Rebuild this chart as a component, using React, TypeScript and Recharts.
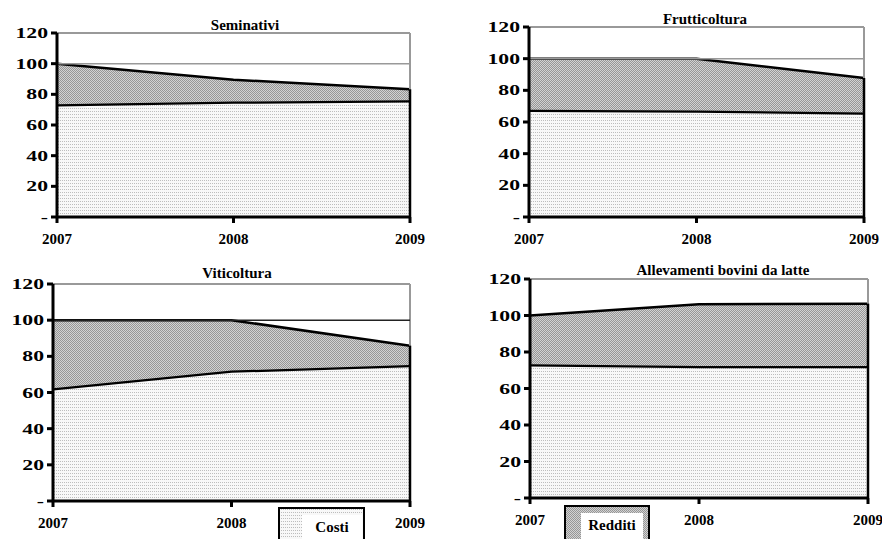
import React from 'react';
import {
  AreaChart,
  Area,
  XAxis,
  YAxis,
  ReferenceLine,
} from 'recharts';

const years = ['2007', '2008', '2009'];
const yTicks = [0, 20, 40, 60, 80, 100, 120];

// indici base 2007 = 100 (costi + redditi)
const seminativiCosti = [73.5, 75.3, 76.1];
const seminativiRedditi = [26.5, 14.2, 7.2];
const frutticolturaCosti = [67.8, 67.2, 66.0];
const frutticolturaRedditi = [32.2, 32.8, 21.8];
const viticolturaCosti = [62.4, 72.1, 75.2];
const viticolturaRedditi = [37.6, 27.9, 10.7];
const latteCosti = [73.3, 72.3, 72.3];
const latteRedditi = [26.7, 33.8, 34.2];

const FONT = '"Liberation Serif", "Times New Roman", serif';
const Y_AXIS_W = 50;
const X_AXIS_H = 30;

interface Box {
  left: number;
  top: number;
  width: number;
  height: number;
}

interface Plot {
  x0: number;
  x1: number;
  y0: number;
  y1: number;
}

interface PanelProps {
  id: string;
  title: string;
  costi: number[];
  redditi: number[];
  box: Box;
  plot: Plot;
  titleX: number;
  titleY: number;
  baseColor?: string;
  showBase?: boolean;
}

const YTick = ({ x, y, payload }: any) => (
  <text
    transform={`translate(${x},${y}) scale(1.55,1)`}
    textAnchor="end"
    dy="0.36em"
    fontFamily={FONT}
    fontWeight="bold"
    fontSize={14}
    fill="#000"
  >
    {payload.value === 0 ? '-' : payload.value}
  </text>
);

const XTick = ({ x, y, payload }: any) => (
  <text
    x={x}
    y={y}
    textAnchor="middle"
    dy="0.71em"
    fontFamily={FONT}
    fontWeight="bold"
    fontSize={15}
    fill="#000"
  >
    {payload.value}
  </text>
);

const Panel: React.FC<PanelProps> = ({
  id,
  title,
  costi,
  redditi,
  box,
  plot,
  titleX,
  titleY,
  baseColor = '#999',
  showBase = true,
}) => {
  const data = years.map((year, i) => ({
    year,
    costi: costi[i],
    redditi: redditi[i],
  }));
  const lastTotal = costi[costi.length - 1] + redditi[redditi.length - 1];

  return (
    <>
      <div style={{ position: 'absolute', left: box.left, top: box.top }}>
        <AreaChart
          width={box.width}
          height={box.height}
          data={data}
          margin={{
            top: plot.y0 - box.top,
            left: plot.x0 - box.left - Y_AXIS_W,
            right: box.left + box.width - plot.x1,
            bottom: box.top + box.height - plot.y1 - X_AXIS_H,
          }}
        >
          <defs>
            <pattern id={`costi-${id}`} width="2" height="3" patternUnits="userSpaceOnUse">
              <rect width="2" height="3" fill="#f8f8f8" />
              <rect width="1" height="1" fill="#bdbdbd" />
            </pattern>
            <pattern id={`redditi-${id}`} width="2" height="2" patternUnits="userSpaceOnUse">
              <rect width="2" height="2" fill="#d2d2d2" />
              <rect width="1" height="1" fill="#969696" />
              <rect x="1" y="1" width="1" height="1" fill="#969696" />
            </pattern>
          </defs>
          <XAxis
            dataKey="year"
            height={X_AXIS_H}
            stroke="#000"
            strokeWidth={3}
            tickSize={6}
            tickMargin={10}
            tick={<XTick />}
            interval={0}
          />
          <YAxis
            width={Y_AXIS_W}
            domain={[0, 120]}
            ticks={yTicks}
            interval={0}
            stroke="#000"
            strokeWidth={3}
            tickSize={6}
            tickMargin={3}
            tick={<YTick />}
          />
          <ReferenceLine y={120} stroke="#999" strokeWidth={2} />
          <ReferenceLine x="2009" stroke="#999" strokeWidth={2} />
          {showBase && <ReferenceLine y={100} stroke={baseColor} strokeWidth={1.5} />}
          <Area
            type="linear"
            dataKey="costi"
            stackId="a"
            stroke="#000"
            strokeWidth={4.5}
            fill={`url(#costi-${id})`}
            fillOpacity={1}
            isAnimationActive={false}
          />
          <Area
            type="linear"
            dataKey="redditi"
            stackId="a"
            stroke="#000"
            strokeWidth={2.5}
            fill={`url(#redditi-${id})`}
            fillOpacity={1}
            isAnimationActive={false}
          />
          <ReferenceLine
            segment={[
              { x: '2009', y: 0 },
              { x: '2009', y: lastTotal },
            ]}
            stroke="#000"
            strokeWidth={2.5}
          />
        </AreaChart>
      </div>
      <div
        style={{
          position: 'absolute',
          left: titleX,
          top: titleY,
          transform: 'translate(-50%, -50%)',
          fontFamily: FONT,
          fontWeight: 'bold',
          fontSize: 15,
          lineHeight: 1,
          whiteSpace: 'nowrap',
        }}
      >
        {title}
      </div>
    </>
  );
};

const legendBox = (
  label: string,
  left: number,
  top: number,
  width: number,
  background: string,
  inner: { left: number; top: number; width: number }
) => (
  <div
    style={{
      position: 'absolute',
      left,
      top,
      width,
      height: 539 - top + 4,
      border: '2px solid #000',
      background,
      boxSizing: 'border-box',
    }}
  >
    <div
      style={{
        position: 'absolute',
        left: inner.left,
        top: inner.top,
        width: inner.width,
        height: 40,
        background: '#fff',
        fontFamily: FONT,
        fontWeight: 'bold',
        fontSize: 15,
        lineHeight: 1,
        textAlign: 'center',
        paddingTop: 5,
        boxSizing: 'border-box',
      }}
    >
      {label}
    </div>
  </div>
);

const App: React.FC = () => (
  <div
    style={{
      position: 'absolute',
      left: 0,
      top: 0,
      width: 882,
      height: 539,
      background: '#fff',
      overflow: 'hidden',
    }}
  >
    <Panel
      id="sem"
      title="Seminativi"
      costi={seminativiCosti}
      redditi={seminativiRedditi}
      box={{ left: 0, top: 0, width: 441, height: 260 }}
      plot={{ x0: 57, x1: 410, y0: 33, y1: 217 }}
      titleX={245}
      titleY={25}
    />
    <Panel
      id="fru"
      title="Frutticoltura"
      costi={frutticolturaCosti}
      redditi={frutticolturaRedditi}
      box={{ left: 441, top: 0, width: 441, height: 260 }}
      plot={{ x0: 529, x1: 864, y0: 27, y1: 217 }}
      titleX={705}
      titleY={19}
    />
    <Panel
      id="vit"
      title="Viticoltura"
      costi={viticolturaCosti}
      redditi={viticolturaRedditi}
      box={{ left: 0, top: 260, width: 441, height: 279 }}
      plot={{ x0: 53, x1: 410, y0: 284, y1: 501 }}
      titleX={237}
      titleY={273}
      baseColor="#222"
    />
    <Panel
      id="lat"
      title="Allevamenti bovini da latte"
      costi={latteCosti}
      redditi={latteRedditi}
      box={{ left: 441, top: 260, width: 441, height: 279 }}
      plot={{ x0: 530, x1: 868, y0: 279, y1: 498 }}
      titleX={723}
      titleY={270}
      showBase={false}
    />
    {legendBox(
      'Costi',
      278,
      507,
      87,
      'repeating-conic-gradient(#bdbdbd 0 25%, #f8f8f8 0 100%) 0 0 / 2px 3px',
      { left: 22, top: 6, width: 60 }
    )}
    {legendBox(
      'Redditi',
      564,
      505,
      86,
      'repeating-conic-gradient(#969696 0 25%, #d2d2d2 0 50%) 0 0 / 2px 2px',
      { left: 15, top: 6, width: 62 }
    )}
  </div>
);

export default App;
